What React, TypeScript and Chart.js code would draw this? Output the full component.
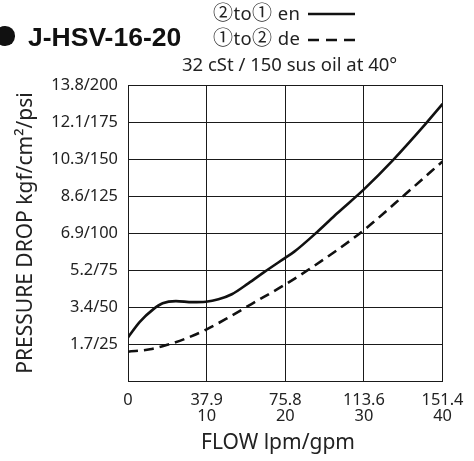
import React, { useEffect, useRef } from 'react';
import Chart from 'chart.js/auto';

// ---- data ----
const flowGpmTicks = [0, 10, 20, 30, 40];
const flowLpmLabels = ['0', '37.9', '75.8', '113.6', '151.4'];
const flowGpmLabels = ['', '10', '20', '30', '40'];

const psiTicks = [0, 25, 50, 75, 100, 125, 150, 175, 200];
const kgfLabels = ['', '1.7', '3.4', '5.2', '6.9', '8.6', '10.3', '12.1', '13.8'];
const psiLabels = ['', '25', '50', '75', '100', '125', '150', '175', '200'];

// solid: port 2 to 1 (en)
const solidFlow = [0, 1.5, 3.2, 4.4, 6.1, 8.2, 9.9, 11.5, 13.2, 15.3, 17.4, 19.9, 21.15, 24.1, 26.6, 30, 33.7, 37.9, 40];
const solidPsi = [29.5, 40, 48.4, 52.5, 54, 53.3, 53.6, 55.2, 58.6, 66, 73.9, 82.9, 87.4, 100.9, 113.3, 129.5, 149.3, 174.1, 187.2];

// dashed: port 1 to 2 (de)
const dashedFlow = [0, 2.8, 4.9, 7.4, 10, 12.8, 15.7, 19.9, 23.2, 26.6, 30, 35.4, 40];
const dashedPsi = [19.8, 21.4, 24.3, 28.8, 34.9, 43, 52, 64.9, 76.1, 88.5, 102, 126.8, 148.4];

const TEXT = '#222';
const SANS = '"Noto Sans", "Noto Sans CJK TC", sans-serif';
const CJK = '"Noto Sans CJK TC", "Noto Sans", sans-serif';

export default function App() {
  const ref = useRef<HTMLCanvasElement | null>(null);

  useEffect(() => {
    if (!ref.current) return;
    const chart = new Chart(ref.current, {
      type: 'line',
      data: {
        datasets: [
          {
            label: '2 to 1 en',
            data: solidFlow.map((x, i) => ({ x, y: solidPsi[i] })),
            borderColor: '#111',
            borderWidth: 2.6,
            pointRadius: 0,
            cubicInterpolationMode: 'monotone',
            fill: false,
          },
          {
            label: '1 to 2 de',
            data: dashedFlow.map((x, i) => ({ x, y: dashedPsi[i] })),
            borderColor: '#111',
            borderWidth: 2.6,
            borderDash: [10, 6],
            pointRadius: 0,
            cubicInterpolationMode: 'monotone',
            fill: false,
          },
        ],
      },
      options: {
        animation: false,
        responsive: false,
        events: [],
        layout: { padding: { left: 13, top: 85, right: 27, bottom: 0 } },
        plugins: { legend: { display: false }, tooltip: { enabled: false } },
        scales: {
          x: {
            type: 'linear',
            min: 0,
            max: 40,
            afterBuildTicks: (s: any) => {
              s.ticks = flowGpmTicks.map((v) => ({ value: v }));
            },
            afterFit: (s: any) => {
              s.height = 80;
            },
            grid: { color: '#1a1a1a', lineWidth: 1, drawTicks: false },
            border: { color: '#1a1a1a', width: 1 },
            ticks: {
              padding: 10.5,
              maxRotation: 0,
              autoSkip: false,
              color: TEXT,
              font: { family: SANS, size: 16.4, lineHeight: 1.02 },
              callback: (value: any) => {
                const i = flowGpmTicks.indexOf(Number(value));
                if (i < 0) return '';
                return flowGpmLabels[i] ? [flowLpmLabels[i], flowGpmLabels[i]] : flowLpmLabels[i];
              },
            },
          },
          y: {
            type: 'linear',
            min: 0,
            max: 200,
            afterBuildTicks: (s: any) => {
              s.ticks = psiTicks.map((v) => ({ value: v }));
            },
            afterFit: (s: any) => {
              s.width = 115;
            },
            grid: { color: '#1a1a1a', lineWidth: 1, drawTicks: false },
            border: { color: '#1a1a1a', width: 1 },
            title: {
              display: true,
              text: 'PRESSURE DROP kgf/cm²/psi',
              color: TEXT,
              padding: 0,
              font: { family: SANS, size: 21, weight: 'normal', lineHeight: 1.2 },
            },
            ticks: {
              padding: 10,
              autoSkip: false,
              color: TEXT,
              font: { family: SANS, size: 16.4 },
              callback: (value: any) => {
                const i = psiTicks.indexOf(Number(value));
                if (i < 0 || !kgfLabels[i]) return '';
                return kgfLabels[i] + '/' + psiLabels[i];
              },
            },
          },
        },
      } as any,
    });
    return () => chart.destroy();
  }, []);

  const circ = { fontFamily: CJK, fontSize: 20 } as const;

  return (
    <div style={{ position: 'absolute', left: 0, top: 0, width: 474, height: 461, overflow: 'hidden', background: '#fff' }}>
      <canvas ref={ref} width={474} height={461} style={{ position: 'absolute', left: 0, top: 0 }} />
      {/* bullet + model */}
      <div style={{ position: 'absolute', left: -4.7, top: 26.3, width: 19.4, height: 19.4, borderRadius: '50%', background: '#111' }} />
      <div style={{ position: 'absolute', left: 28, top: 21.5, fontFamily: '"Liberation Sans", Arial, sans-serif', fontWeight: 'bold', fontSize: 26.5, color: '#111', whiteSpace: 'nowrap', lineHeight: 'normal' }}>
        J-HSV-16-20
      </div>
      {/* legend */}
      <div style={{ position: 'absolute', left: 213, top: 2.3, fontFamily: SANS, fontSize: 18.5, lineHeight: '20px', letterSpacing: 0.4, color: TEXT, whiteSpace: 'nowrap' }}>
        <span style={circ}>②</span>to<span style={circ}>①</span> en
      </div>
      <svg style={{ position: 'absolute', left: 0, top: 0 }} width={474} height={60}>
        <line x1={308} y1={14} x2={355} y2={14} stroke="#111" strokeWidth={2.4} />
        <line x1={308} y1={40} x2={355} y2={40} stroke="#111" strokeWidth={2.4} strokeDasharray="11 7" />
      </svg>
      <div style={{ position: 'absolute', left: 213, top: 27.3, fontFamily: SANS, fontSize: 18.5, lineHeight: '20px', letterSpacing: 0.4, color: TEXT, whiteSpace: 'nowrap' }}>
        <span style={circ}>①</span>to<span style={circ}>②</span> de
      </div>
      <div style={{ position: 'absolute', left: 182, top: 54.3, fontFamily: SANS, fontSize: 18.5, lineHeight: '20px', color: TEXT, whiteSpace: 'nowrap' }}>
        32 cSt / 150 sus oil at 40°
      </div>
      {/* x axis title */}
      <div style={{ position: 'absolute', left: 278, top: 429, transform: 'translateX(-50%)', fontFamily: SANS, fontSize: 21, lineHeight: '24px', color: TEXT, whiteSpace: 'nowrap' }}>
        FLOW lpm/gpm
      </div>
    </div>
  );
}
